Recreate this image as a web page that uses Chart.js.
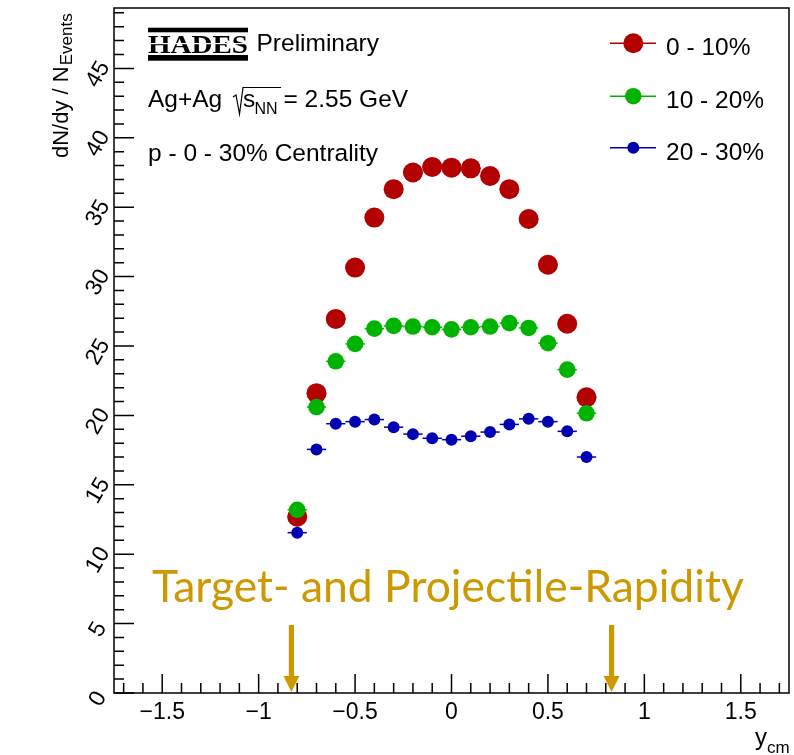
<!DOCTYPE html>
<html>
<head>
<meta charset="utf-8">
<script src="https://cdn.jsdelivr.net/npm/chart.js@4.4.1/dist/chart.umd.min.js"></script>
<style>
  html, body { margin: 0; padding: 0; background: #fff; }
  #wrap { width: 794px; height: 755px; }
</style>
</head>
<body>
<div id="wrap"><canvas id="chart" width="794" height="755"></canvas></div>
<script>
// rapidity bins (y_cm), bin centres
const rapidity = [-0.8, -0.7, -0.6, -0.5, -0.4, -0.3, -0.2, -0.1, 0.0, 0.1, 0.2, 0.3, 0.4, 0.5, 0.6, 0.7];

// dN/dy per centrality class
const cent0to10 = [12.7, 21.6, 26.95, 30.65, 34.25, 36.3, 37.5, 37.9, 37.85, 37.8, 37.25, 36.3, 34.15, 30.85, 26.6, 21.3];
const cent10to20 = [13.2, 20.6, 23.9, 25.15, 26.25, 26.45, 26.4, 26.35, 26.2, 26.35, 26.4, 26.65, 26.3, 25.2, 23.3, 20.15];
const cent20to30 = [11.55, 17.55, 19.4, 19.55, 19.7, 19.15, 18.65, 18.35, 18.25, 18.5, 18.8, 19.35, 19.75, 19.55, 18.85, 17.0];

const centLabels = ["0 - 10%", "10 - 20%", "20 - 30%"];
const centColors = ["#b30000", "#00b300", "#0000b3"];
const markerRadius = [10, 8.3, 6];

const binHalfWidth = 0.05;
const beamRapidity = [-0.83, 0.83];   // target / projectile
const xRange = [-1.75, 1.75];
const yRange = [0, 49.35];
const xStep = 0.5, xMinor = 0.1;
const yStep = 5, yMinor = 1;

const FONT = "'Liberation Sans', Arial, sans-serif";

function toPoints(values) {
    return values.map((v, i) => ({ x: rapidity[i], y: v }));
}

function minusSign(v) {
    return String(v).replace("-", "\u2212");
}

// major ticks on multiples of the step, inside the range
function stepTicks(scale, step) {
    const ticks = [];
    for (let k = Math.ceil(scale.min / step - 1e-9); k * step <= scale.max + 1e-9; k++) {
        ticks.push({ value: Math.round(k * step * 1000) / 1000 });
    }
    scale.ticks = ticks;
}

// ROOT look: frame, inward ticks, legend, labels
const rootStyle = {
    id: "rootStyle",
    beforeDatasetsDraw(chart) {
        const { ctx, scales: { x, y } } = chart;
        chart.data.datasets.forEach(ds => {
            ctx.save();
            ctx.strokeStyle = ds.borderColor;
            ctx.lineWidth = 1.5;
            ds.data.forEach(p => {
                const py = y.getPixelForValue(p.y);
                ctx.beginPath();
                ctx.moveTo(x.getPixelForValue(p.x - binHalfWidth), py);
                ctx.lineTo(x.getPixelForValue(p.x + binHalfWidth), py);
                ctx.stroke();
            });
            ctx.restore();
        });
    },
    afterDraw(chart) {
        const { ctx, chartArea: a, scales: { x, y } } = chart;
        ctx.save();

        // frame
        ctx.strokeStyle = "#000";
        ctx.lineWidth = 1.5;
        ctx.strokeRect(a.left, a.top, a.right - a.left, a.bottom - a.top);

        // x ticks (inside)
        ctx.beginPath();
        for (let k = Math.ceil(x.min / xMinor - 1e-9); k * xMinor <= x.max + 1e-9; k++) {
            const px = x.getPixelForValue(k * xMinor);
            const len = (k % Math.round(xStep / xMinor) === 0) ? 19 : 10;
            ctx.moveTo(px, a.bottom);
            ctx.lineTo(px, a.bottom - len);
        }
        // y ticks (inside)
        for (let k = Math.ceil(y.min / yMinor); k * yMinor <= y.max; k++) {
            const py = y.getPixelForValue(k * yMinor);
            const len = (k % Math.round(yStep / yMinor) === 0) ? 20 : 10;
            ctx.moveTo(a.left, py);
            ctx.lineTo(a.left + len, py);
        }
        ctx.stroke();

        // axis titles
        ctx.fillStyle = "#000";
        ctx.save();
        ctx.translate(68, 158);
        ctx.rotate(-Math.PI / 2);
        ctx.font = "22px " + FONT;
        ctx.textAlign = "left";
        ctx.textBaseline = "alphabetic";
        const mainTitle = "dN/dy / N";
        ctx.fillText(mainTitle, 0, 0);
        const w = ctx.measureText(mainTitle).width;
        ctx.font = "17px " + FONT;
        ctx.fillText("Events", w + 1, 4);
        ctx.restore();

        ctx.font = "24px " + FONT;
        ctx.textAlign = "left";
        ctx.fillText("y", 755, 745);
        ctx.font = "17px " + FONT;
        ctx.fillText("cm", 767, 753);

        // HADES logo
        ctx.fillRect(148, 27.7, 100, 4.6);
        ctx.fillRect(148, 55, 100, 5.7);
        ctx.save();
        ctx.font = "bold 26px 'Liberation Serif', serif";
        const lw = ctx.measureText("HADES").width;
        ctx.translate(148, 52.5);
        ctx.scale(100 / lw, 0.98);
        ctx.fillText("HADES", 0, 0);
        ctx.restore();
        ctx.fillStyle = "#fff";
        ctx.fillRect(148, 43, 100, 1.2);
        ctx.fillStyle = "#000";

        ctx.font = "24.5px " + FONT;
        ctx.fillText("Preliminary", 256.5, 51);
        ctx.fillText("Ag+Ag", 148, 107);
        ctx.fillText("s", 243, 107);
        ctx.fillText("= 2.55 GeV", 283.5, 107);
        ctx.font = "16px " + FONT;
        ctx.fillText("NN", 254.5, 113.5);
        ctx.beginPath();
        ctx.lineWidth = 1.2;
        ctx.moveTo(233, 97);
        ctx.lineTo(236, 95);
        ctx.lineTo(239.5, 114);
        ctx.lineTo(243, 87.5);
        ctx.lineTo(281, 87.5);
        ctx.stroke();
        ctx.font = "24.5px " + FONT;
        ctx.fillText("p - 0 - 30% Centrality", 148, 160.8);

        // legend
        const legendY = [43.3, 96.2, 147.8];
        chart.data.datasets.forEach((ds, i) => {
            const ly = legendY[i];
            ctx.strokeStyle = ds.borderColor;
            ctx.lineWidth = 1.5;
            ctx.beginPath();
            ctx.moveTo(610, ly);
            ctx.lineTo(656, ly);
            ctx.stroke();
            ctx.fillStyle = ds.backgroundColor;
            ctx.beginPath();
            ctx.arc(633.3, ly, markerRadius[i], 0, Math.PI * 2);
            ctx.fill();
            ctx.fillStyle = "#000";
            ctx.font = "24.5px " + FONT;
            ctx.fillText(ds.label, 666, ly + 11.8);
        });

        // target / projectile rapidity
        const orange = "#cc9a00";
        ctx.fillStyle = orange;
        const label = "Target- and Projectile-Rapidity";
        ctx.font = "40px Lato, 'Open Sans', sans-serif";
        const size = 40 * 592 / ctx.measureText(label).width;
        ctx.font = size + "px Lato, 'Open Sans', sans-serif";
        ctx.fillText(label, 152, 601.7);

        beamRapidity.forEach(r => {
            const px = x.getPixelForValue(r);
            const tip = y.getPixelForValue(0) - 1;
            ctx.fillRect(px - 2.6, tip - 67, 5.2, 52);
            ctx.beginPath();
            ctx.moveTo(px - 8, tip - 16);
            ctx.lineTo(px + 8, tip - 16);
            ctx.lineTo(px, tip);
            ctx.closePath();
            ctx.fill();
        });

        ctx.restore();
    }
};

const datasets = [cent0to10, cent10to20, cent20to30].map((vals, i) => ({
    label: centLabels[i],
    data: toPoints(vals),
    backgroundColor: centColors[i],
    borderColor: centColors[i],
    pointRadius: markerRadius[i],
    pointHoverRadius: markerRadius[i],
    pointBorderWidth: 0,
    showLine: false,
    order: 3 - i
}));

new Chart(document.getElementById("chart").getContext("2d"), {
    type: "scatter",
    data: { datasets: datasets },
    options: {
        responsive: false,
        animation: false,
        layout: { autoPadding: false, padding: { top: 8, right: 5, left: 0, bottom: 0 } },
        plugins: { legend: { display: false }, tooltip: { enabled: false } },
        scales: {
            x: {
                type: "linear",
                min: xRange[0],
                max: xRange[1],
                grid: { display: false, drawTicks: false },
                border: { display: false },
                afterBuildTicks: s => stepTicks(s, xStep),
                ticks: {
                    autoSkip: false,
                    maxRotation: 0,
                    color: "#000",
                    padding: 6,
                    font: { family: FONT, size: 23 },
                    callback: v => minusSign(v)
                },
                afterFit: s => { s.height = 62; s.paddingLeft = 0; s.paddingRight = 0; }
            },
            y: {
                type: "linear",
                min: yRange[0],
                max: yRange[1],
                grid: { display: false, drawTicks: false },
                border: { display: false },
                afterBuildTicks: s => stepTicks(s, yStep),
                ticks: {
                    autoSkip: false,
                    minRotation: 60,
                    maxRotation: 60,
                    crossAlign: "center",
                    labelOffset: 6,
                    padding: 3,
                    color: "#000",
                    font: { family: FONT, size: 23 }
                },
                afterFit: s => { s.width = 114; s.paddingTop = 0; s.paddingBottom = 0; }
            }
        }
    },
    plugins: [rootStyle]
});
</script>
</body>
</html>
